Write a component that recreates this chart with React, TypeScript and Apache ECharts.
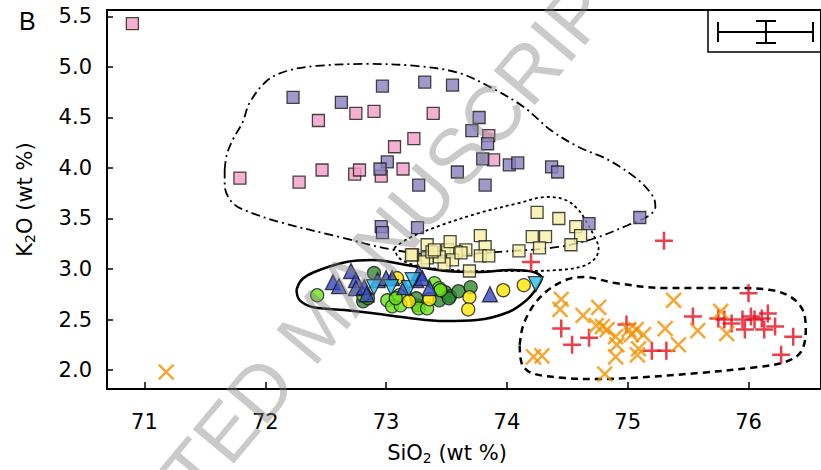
import React, { useEffect, useRef } from "react";
import * as echarts from "echarts";

// ---------- data ----------
const xTicks = [71, 72, 73, 74, 75, 76];
const yTicks = [2.0, 2.5, 3.0, 3.5, 4.0, 4.5, 5.0, 5.5];

const pinkSquares = [
  [70.9, 5.43], [71.79, 3.9], [72.28, 3.86], [72.44, 4.47], [72.47, 3.98], [72.74, 3.94],
  [72.78, 3.98], [72.75, 4.54], [72.9, 4.56], [72.96, 3.92], [73.07, 4.21], [73.14, 3.99],
  [73.23, 4.29], [73.39, 4.54], [73.85, 4.32], [73.89, 4.08],
];
const purpleSquares = [
  [72.23, 4.7], [72.63, 4.65], [72.97, 4.81], [73.32, 4.85], [73.55, 4.82], [73.77, 4.5],
  [73.71, 4.37], [73.84, 4.24], [73.8, 4.09], [73.01, 4.06], [72.95, 3.99], [73.27, 3.83],
  [73.59, 3.96], [73.82, 3.83], [74.02, 4.03], [74.09, 4.05], [74.37, 4.01], [74.42, 3.96],
  [74.68, 3.45], [75.1, 3.51], [72.96, 3.42], [72.97, 3.36], [73.26, 3.41],
];
const yellowSquares = [
  [74.25, 3.56], [74.43, 3.5], [74.57, 3.42], [74.61, 3.33], [73.78, 3.33], [74.21, 3.32],
  [74.32, 3.32], [74.53, 3.24], [74.27, 3.21], [74.1, 3.18], [73.82, 3.22], [73.78, 3.13],
  [73.85, 3.13], [73.69, 2.98], [73.66, 3.19], [73.58, 3.17], [73.51, 3.19], [73.53, 3.27],
  [73.55, 3.09], [73.48, 3.05], [73.44, 3.12], [73.34, 3.24], [73.34, 3.11], [73.31, 3.07],
  [73.22, 3.14], [73.38, 3.17], [73.21, 3.14], [73.4, 3.19], [73.62, 3.16],
];
const darkGreenCircles = [
  [72.81, 2.68], [72.85, 2.71], [73.26, 2.64], [73.25, 2.71], [73.44, 2.69], [73.49, 2.77],
  [73.53, 2.73], [73.52, 2.71], [73.6, 2.78], [73.7, 2.82], [72.9, 2.96],
];
const lightGreenCircles = [
  [72.43, 2.74], [72.81, 2.74], [73.01, 2.69], [73.05, 2.63], [73.12, 2.64], [73.11, 2.74],
  [73.27, 2.61], [73.34, 2.61], [73.4, 2.86], [73.44, 2.81], [73.45, 2.79], [73.08, 2.71],
];
const yellowCircles = [
  [73.09, 2.91], [73.19, 2.68], [73.36, 2.7], [73.69, 2.72], [73.68, 2.6], [73.97, 2.79], [74.14, 2.84],
];
const blueTriangles = [
  [72.56, 2.87], [72.61, 2.83], [72.71, 2.98], [72.75, 2.89], [72.75, 2.81], [72.82, 2.82],
  [72.84, 2.75], [72.93, 2.89], [73.0, 2.91], [73.05, 2.91], [73.15, 2.82], [73.25, 2.89],
  [73.27, 2.96], [73.3, 2.91], [73.36, 2.81], [73.86, 2.75],
];
const cyanTriangles = [
  [72.9, 2.82], [73.04, 2.82], [73.19, 2.81], [73.22, 2.89], [74.24, 2.85],
];
const redPlus = [
  [75.3, 3.28], [74.2, 3.07], [74.45, 2.41], [74.54, 2.25], [74.68, 2.32], [74.99, 2.45],
  [75.2, 2.19], [75.32, 2.19], [75.54, 2.53], [75.75, 2.51], [75.8, 2.5], [76.0, 2.76],
  [75.86, 2.46], [75.95, 2.5], [75.97, 2.4], [76.02, 2.53], [76.05, 2.5], [76.11, 2.51],
  [76.16, 2.56], [76.13, 2.4], [76.22, 2.43], [76.37, 2.33], [76.27, 2.15],
];
const orangeCross = [
  [71.18, 1.98], [74.45, 2.7], [74.44, 2.6], [74.63, 2.54], [74.76, 2.62], [74.74, 2.44],
  [74.79, 2.43], [74.83, 2.4], [74.9, 2.33], [74.91, 2.25], [74.9, 2.13], [74.81, 1.96],
  [75.01, 2.4], [75.03, 2.35], [75.07, 2.4], [75.13, 2.35], [75.09, 2.21], [75.08, 2.15],
  [75.31, 2.41], [75.42, 2.25], [75.38, 2.69], [75.58, 2.39], [75.77, 2.58], [75.82, 2.36],
  [74.22, 2.13], [74.29, 2.14],
];

// envelopes (data coordinates)
const envDashDot = [
  [71.664, 3.98], [71.681, 4.129], [71.73, 4.277], [71.813, 4.455], [71.87, 4.644], [72.011, 4.861],
  [72.176, 4.96], [72.423, 5.01], [72.836, 5.03], [73.248, 5.01], [73.603, 4.941], [73.875, 4.792],
  [74.139, 4.604], [74.362, 4.376], [74.593, 4.208], [74.841, 4.079], [75.088, 3.881], [75.212, 3.713],
  [75.229, 3.614], [75.171, 3.525], [75.006, 3.436], [74.733, 3.307], [74.428, 3.218], [73.908, 3.168],
  [73.479, 3.139], [73.067, 3.188], [72.613, 3.317], [72.118, 3.465], [71.87, 3.564], [71.73, 3.653],
  [71.664, 3.832],
];
const envDotted = [
  [73.067, 3.208], [73.191, 3.307], [73.439, 3.426], [73.769, 3.554], [74.099, 3.653], [74.329, 3.713],
  [74.486, 3.683], [74.593, 3.584], [74.659, 3.465], [74.717, 3.337], [74.759, 3.208], [74.733, 3.109],
  [74.634, 3.03], [74.428, 2.99], [74.099, 2.98], [73.769, 2.98], [73.439, 3.0], [73.232, 3.04],
  [73.108, 3.109],
];
const envSolid = [
  [72.258, 2.792], [72.3, 2.891], [72.407, 2.97], [72.671, 3.069], [72.885, 3.089], [73.215, 3.03],
  [73.496, 2.98], [73.768, 2.97], [74.04, 2.99], [74.221, 2.97], [74.288, 2.911], [74.247, 2.812],
  [74.164, 2.693], [74.015, 2.574], [73.751, 2.495], [73.478, 2.485], [73.19, 2.515], [72.942, 2.554],
  [72.654, 2.594], [72.39, 2.624], [72.283, 2.693],
];
const envDashed = [
  [74.106, 2.248], [74.131, 2.426], [74.205, 2.614], [74.321, 2.772], [74.486, 2.891], [74.634, 2.921],
  [74.898, 2.861], [75.311, 2.812], [75.856, 2.812], [76.185, 2.792], [76.35, 2.723], [76.449, 2.594],
  [76.474, 2.396], [76.433, 2.178], [76.301, 2.079], [76.078, 2.03], [75.583, 1.97], [75.03, 1.921],
  [74.758, 1.911], [74.486, 1.921], [74.205, 1.97], [74.122, 2.069],
];

const FONT = "DejaVu Sans";
const PLUS = "path://M0,43 L100,43 L100,57 L0,57 Z M43,0 L57,0 L57,100 L43,100 Z";
const CROSS = "path://M0,44 L100,44 L100,56 L0,56 Z M44,0 L56,0 L56,100 L44,100 Z";

const closed = (a: number[][]) => [...a, a[0]];

function envelope(data: number[][], type: any, width: number) {
  return {
    type: "line",
    data: closed(data),
    showSymbol: false,
    symbol: "none",
    smooth: 0.35,
    silent: true,
    z: 1,
    lineStyle: { color: "#000", width, type },
  };
}

function scatter(data: number[][], symbol: string, size: number, color: string, extra: any = {}) {
  return {
    type: "scatter",
    data,
    symbol,
    symbolSize: size,
    z: 3,
    itemStyle: { color, borderColor: "#1a1a1a", borderWidth: 1.3 },
    ...extra,
  };
}

export default function App() {
  const ref = useRef<HTMLDivElement>(null);
  useEffect(() => {
    document.body.style.margin = "0";
    const chart = echarts.init(ref.current!, null, { renderer: "svg" });
    const option: any = {
      animation: false,
      backgroundColor: "#fff",
      grid: {
        left: 107, top: 10, right: -2, bottom: 81,
        show: true, borderColor: "#000", borderWidth: 2, backgroundColor: "transparent",
      },
      xAxis: {
        type: "value", min: 70.69, max: 76.6,
        name: "{a|SiO}{b|2}{a| (wt %)}",
        nameLocation: "middle", nameGap: 52,
        nameTextStyle: {
          padding: [0, 34, 0, 0],
          rich: {
            a: { fontFamily: FONT, fontSize: 21, color: "#000" },
            b: { fontFamily: FONT, fontSize: 14, color: "#000", padding: [10, 0, 0, 0] },
          },
        },
        axisLine: { onZero: false, lineStyle: { color: "#000", width: 2 } },
        axisTick: { inside: true, length: 7, customValues: xTicks, lineStyle: { color: "#000", width: 1.5 } },
        axisLabel: { customValues: xTicks, margin: 22, fontFamily: FONT, fontSize: 21, color: "#000" },
        splitLine: { show: false },
      },
      yAxis: {
        type: "value", min: 1.812, max: 5.564,
        name: "{a|K}{b|2}{a|O (wt %)}",
        nameLocation: "middle", nameGap: 70,
        nameTextStyle: {
          rich: {
            a: { fontFamily: FONT, fontSize: 21, color: "#000" },
            b: { fontFamily: FONT, fontSize: 14, color: "#000", padding: [10, 0, 0, 0] },
          },
        },
        axisLine: { onZero: false, lineStyle: { color: "#000", width: 2 } },
        axisTick: { inside: true, length: 6, customValues: yTicks, lineStyle: { color: "#000", width: 1.5 } },
        axisLabel: {
          customValues: yTicks, margin: 15, fontFamily: FONT, fontSize: 21, color: "#000",
          formatter: (v: number) => v.toFixed(1),
        },
        splitLine: { show: false },
      },
      series: [
        envelope(envDashDot, [9, 4, 2, 4], 1.8),
        envelope(envDotted, [3, 3], 1.8),
        envelope(envSolid, "solid", 2.5),
        envelope(envDashed, [7, 5], 2.5),
        scatter(pinkSquares, "rect", 12, "#F49CC6"),
        scatter(purpleSquares, "rect", 12, "#8A80BE"),
        scatter(yellowSquares, "rect", 12, "#F6F0A6"),
        scatter(darkGreenCircles, "circle", 13, "#2F8A2E"),
        scatter(lightGreenCircles, "circle", 13, "#6CE21C"),
        scatter(yellowCircles, "circle", 13, "#FFE600"),
        scatter(blueTriangles, "triangle", 15, "#3446C6"),
        scatter(cyanTriangles, "triangle", 15, "#2EBEF2", { symbolRotate: 180 }),
        {
          type: "scatter", data: redPlus, symbol: PLUS, symbolSize: 18, z: 3,
          itemStyle: { color: "#E3101E" },
        },
        {
          type: "scatter", data: orangeCross, symbol: CROSS, symbolSize: 21, symbolRotate: 45, z: 3,
          itemStyle: { color: "#F39200" },
        },
      ],
      graphic: [
        {
          type: "text", left: 19, top: 8, z: 10,
          style: { text: "B", fontFamily: "Liberation Sans", fontSize: 25, fill: "#000" },
        },
        {
          type: "group", z: 10,
          children: [
            { type: "rect", shape: { x: 708, y: 10, width: 120, height: 42 }, style: { fill: "none", stroke: "#000", lineWidth: 1.5 } },
            { type: "line", shape: { x1: 718, y1: 32, x2: 813, y2: 32 }, style: { stroke: "#000", lineWidth: 2 } },
            { type: "line", shape: { x1: 718, y1: 22, x2: 718, y2: 42 }, style: { stroke: "#000", lineWidth: 2 } },
            { type: "line", shape: { x1: 813, y1: 22, x2: 813, y2: 42 }, style: { stroke: "#000", lineWidth: 2 } },
            { type: "line", shape: { x1: 766, y1: 21, x2: 766, y2: 43 }, style: { stroke: "#000", lineWidth: 2 } },
            { type: "line", shape: { x1: 756, y1: 21, x2: 776, y2: 21 }, style: { stroke: "#000", lineWidth: 2 } },
            { type: "line", shape: { x1: 756, y1: 43, x2: 776, y2: 43 }, style: { stroke: "#000", lineWidth: 2 } },
          ],
        },
        {
          type: "text", x: 315, y: 325, rotation: (50 * Math.PI) / 180, z: 100, silent: true,
          style: {
            text: "ACCEPTED MANUSCRIPT", fontFamily: "Liberation Sans", fontSize: 78,
            fill: "rgba(128,128,128,0.42)", align: "center", verticalAlign: "middle",
          },
        },
      ],
    };
    chart.setOption(option);
    return () => chart.dispose();
  }, []);
  return <div ref={ref} style={{ width: 821, height: 470 }} />;
}
